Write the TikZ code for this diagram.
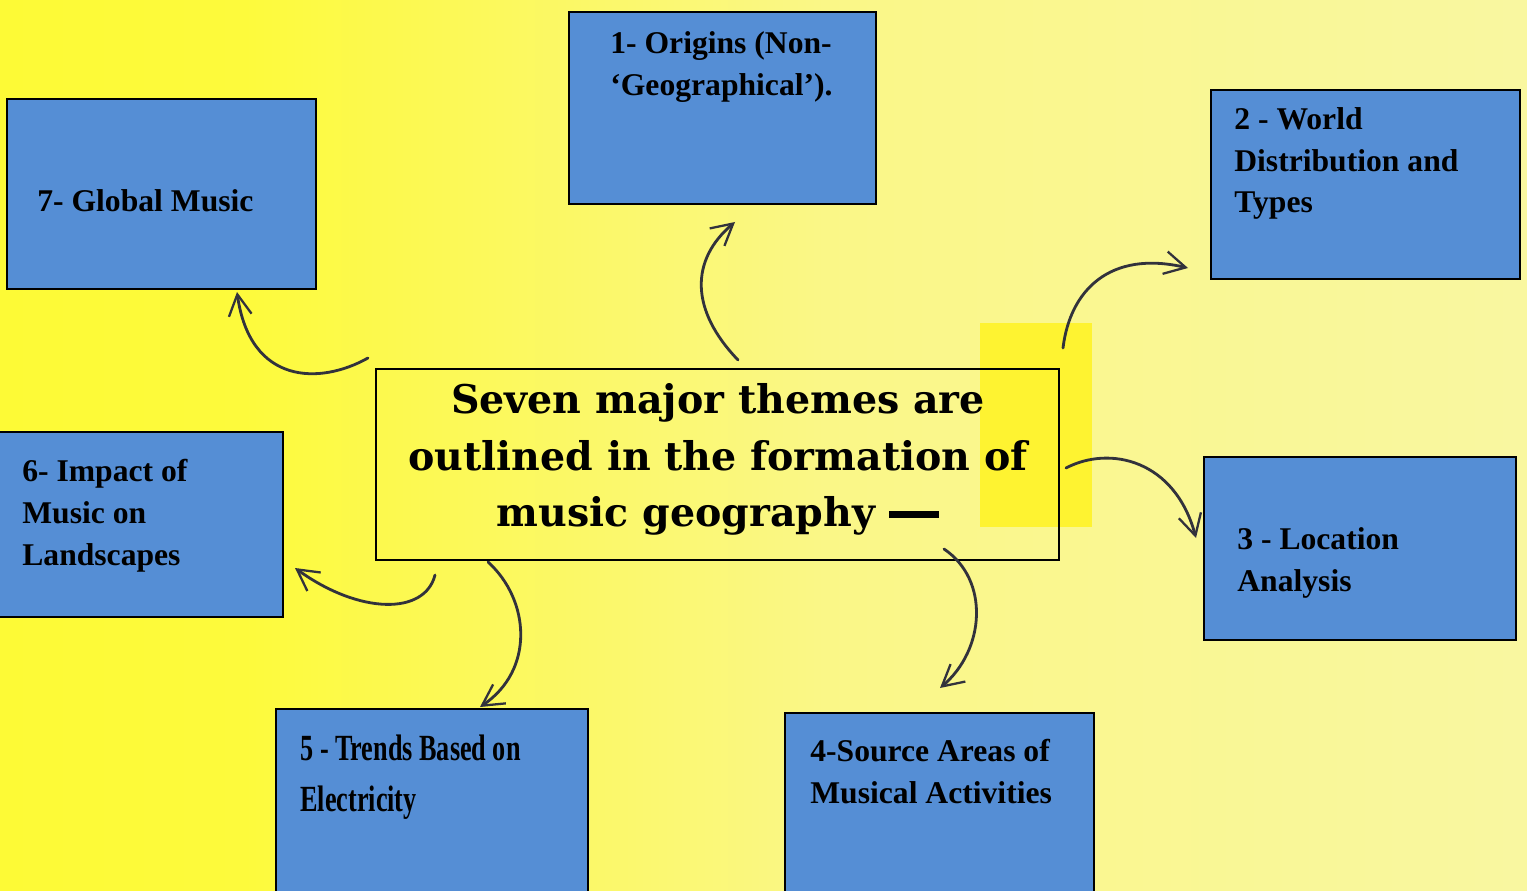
\documentclass[tikz,border=0pt]{standalone}
\usepackage{fontspec}
\setmainfont{Liberation Serif}
\newfontfamily\ctrfont{DejaVu Serif}
\usetikzlibrary{arrows.meta,fit}
\definecolor{boxblue}{RGB}{85,142,213}
\definecolor{yA}{RGB}{255,252,35}
\definecolor{yB}{RGB}{253,250,60}
\definecolor{yC}{RGB}{250,247,135}
\definecolor{yD}{RGB}{248,246,188}
\definecolor{pen}{RGB}{50,50,60}
\pgfdeclarehorizontalshading{bgshade}{100bp}{color(0bp)=(yA); color(33bp)=(yB); color(52bp)=(yC); color(100bp)=(yD)}
\tikzset{
  box/.style={draw=black, line width=1.2pt, fill=boxblue, inner sep=0pt},
  lbl/.style={font=\fontsize{18}{23.8}\selectfont\bfseries, align=left, inner sep=0pt, anchor=north west},
  ctr/.style={draw=black, line width=0.8pt, inner sep=0pt},
  ctrtxt/.style={font=\ctrfont\fontsize{22.5}{32.3}\selectfont\bfseries, align=center, inner sep=0pt, anchor=north},
  sketch/.style={draw=pen, line width=1.6pt, line cap=round, -{Straight Barb[length=12pt,width=13pt,line width=1.3pt]}}
}
\begin{document}
\begin{tikzpicture}[x=0.02cm, y=-0.02cm]
\useasboundingbox (0,0) rectangle (1527,891);
\clip (0,0) rectangle (1527,891);
\shade[shading=bgshade] (0,0) rectangle (1527,891);
\fill[yellow!90!white, opacity=0.8] (980,323) rectangle (1092,527);

% boxes
\node[box, fit={(569,12) (876,204)}] (b1) {};
\node[box, fit={(1211,90) (1520,279)}] (b2) {};
\node[box, fit={(1204,457) (1516,640)}] (b3) {};
\node[box, fit={(785,713) (1094,905)}] (b4) {};
\node[box, fit={(276,709) (588,905)}] (b5) {};
\node[box, fit={(-10,432) (283,617)}] (b6) {};
\node[box, fit={(7,99) (316,289)}] (b7) {};
\node[ctr, fit={(376,369) (1059,560)}] (c) {};

% texts
\node[lbl] (t1) at (610,31) {1- Origins (Non-\\‘Geographical’).};
\node[lbl] (t2) at (1234,107) {2 - World\\Distribution and\\Types};
\node[lbl] (t3) at (1237,527) {3 - Location\\Analysis};
\node[lbl] (t4) at (810,739) {4-Source Areas of\\Musical Activities};
\node[lbl, font=\fontsize{21}{28.5}\selectfont\bfseries] (t5) at (300,735) {\scalebox{0.71}[1]{5 - Trends Based on}\\\scalebox{0.71}[1]{Electricity}};
\node[lbl] (t6) at (22,459) {6- Impact of\\Music on\\Landscapes};
\node[lbl] (t7) at (37,189) {7- Global Music};
\node[ctrtxt] (ct) at (718,383) {Seven major themes are\\outlined in the formation of\\music geography \rule[0.22em]{1cm}{4pt}};

% arrow ends
\coordinate (a1s) at (738,360); \coordinate (a1e) at (735,222);
\coordinate (a2s) at (1063,348); \coordinate (a2e) at (1188,268);
\coordinate (a3s) at (1066,468); \coordinate (a3e) at (1196,538);
\coordinate (a4s) at (944,549); \coordinate (a4e) at (940,688);
\coordinate (a5s) at (488,562); \coordinate (a5e) at (480,707);
\coordinate (a6s) at (435,575); \coordinate (a6e) at (295,568);
\coordinate (a7s) at (368,358); \coordinate (a7e) at (237,292);

\draw[sketch] (a1s) .. controls (690,310) and (690,260) .. (a1e);
\draw[sketch] (a2s) .. controls (1070,290) and (1110,250) .. (a2e);
\draw[sketch] (a3s) .. controls (1110,445) and (1175,460) .. (a3e);
\draw[sketch] (a4s) .. controls (990,580) and (985,650) .. (a4e);
\draw[sketch] (a5s) .. controls (530,600) and (535,670) .. (a5e);
\draw[sketch] (a6s) .. controls (425,615) and (360,615) .. (a6e);
\draw[sketch] (a7s) .. controls (320,385) and (250,385) .. (a7e);
\end{tikzpicture}
\end{document}
